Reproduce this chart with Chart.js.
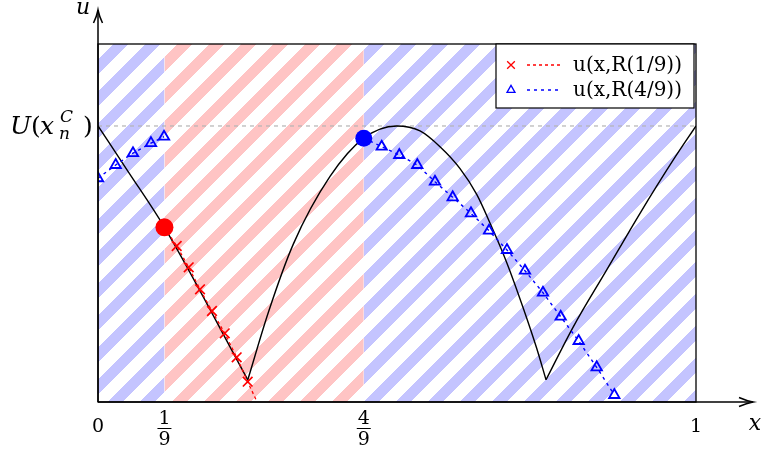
<!DOCTYPE html>
<html>
<head>
<meta charset="utf-8">
<script src="https://cdn.jsdelivr.net/npm/chart.js@4.4.1/dist/chart.umd.min.js"></script>
<style>
  html, body { margin: 0; padding: 0; background: #fff; }
  #wrap { width: 764px; height: 453px; }
</style>
</head>
<body>
<div id="wrap"><canvas id="c" width="764" height="453"></canvas></div>
<script>
// --- values ---
const xTicks = [0, 1/9, 4/9, 1];
const xTickLabels = ['0', '1/9', '4/9', '1'];
const uC = 0.771;                       // U(x_n^C), dashed grey level

const blueRegions = [[0, 1/9], [4/9, 1]];
const redRegions = [[1/9, 4/9]];

// exact solution, in three smooth pieces (kinks at the two minima)
const solAx = [0, 0.0507, 0.1111, 0.2505];
const solAu = [0.771, 0.643, 0.488, 0.062];
const solBx = [0.2505, 0.2848, 0.3266, 0.3880, 0.4444, 0.4995,
               0.5385, 0.5719, 0.6054, 0.6333, 0.6555, 0.6834, 0.7112, 0.7336, 0.7492];
const solBu = [0.062, 0.250, 0.441, 0.630, 0.737, 0.771,
               0.757, 0.713, 0.652, 0.580, 0.500, 0.390, 0.262, 0.150, 0.062];
const solCx = [0.7492, 0.7948, 0.8507, 0.9064, 0.9620, 1.0];
const solCu = [0.062, 0.210, 0.369, 0.527, 0.676, 0.771];

// u(x,R(1/9))
const rec1x = [0.1111, 0.1316, 0.1517, 0.1706, 0.1906, 0.2119, 0.2319, 0.2503, 0.2660];
const rec1u = [0.488, 0.4358, 0.3763, 0.3148, 0.2542, 0.1919, 0.1249, 0.0567, 0];

// u(x,R(4/9)), left piece wraps round from x=1
const rec4Lx = [0, 0.0296, 0.0585, 0.0886, 0.1104];
const rec4Lu = [0.625, 0.662, 0.695, 0.723, 0.741];
const rec4Rx = [0.4444, 0.4744, 0.5038, 0.5339, 0.5635, 0.5931, 0.6237, 0.6538, 0.6839,
                0.7140, 0.7441, 0.7737, 0.8038, 0.8339, 0.8634];
const rec4Ru = [0.737, 0.7131, 0.6900, 0.6620, 0.6154, 0.5718, 0.5271, 0.4785, 0.4246,
                0.3668, 0.3053, 0.2383, 0.1704, 0.0969, 0.0196];

const dotX = [1/9, 4/9];
const dotU = [0.488, 0.737];

const pts = (xs, us) => xs.map((x, i) => ({x: x, y: us[i]}));

// 45 degree stripe tile
function stripes(ctx, rgb) {
    const P = 32, W = 15, off = 3;
    const tile = document.createElement('canvas');
    tile.width = P; tile.height = P;
    const g = tile.getContext('2d');
    const img = g.createImageData(P, P);
    for (let y = 0; y < P; y++) {
        for (let x = 0; x < P; x++) {
            if ((x + y + off) % P < W) {
                const k = (y * P + x) * 4;
                img.data[k] = rgb[0]; img.data[k+1] = rgb[1]; img.data[k+2] = rgb[2]; img.data[k+3] = 255;
            }
        }
    }
    g.putImageData(img, 0, 0);
    return ctx.createPattern(tile, 'repeat');
}

const canvas = document.getElementById('c');
const ctx = canvas.getContext('2d');
const bluePat = stripes(ctx, [196, 196, 255]);
const redPat = stripes(ctx, [255, 196, 196]);

const FONT = "'DejaVu Serif', serif";

function regionSet(r, pat) {
    return { data: pts(r, [1, 1]), showLine: true, borderWidth: 0, pointRadius: 0,
             fill: 'origin', backgroundColor: pat, order: 20 };
}
function solSet(xs, us) {
    return { data: pts(xs, us), showLine: true, borderColor: '#000', borderWidth: 1.4,
             cubicInterpolationMode: 'monotone', pointRadius: 0, fill: false, order: 10 };
}

const datasets = [];
blueRegions.forEach(r => datasets.push(regionSet(r, bluePat)));
redRegions.forEach(r => datasets.push(regionSet(r, redPat)));
datasets.push({ data: pts([0, 1], [uC, uC]), showLine: true, borderColor: '#b4b4b4',
                borderDash: [4, 4], borderWidth: 1.2, pointRadius: 0, order: 15 });
datasets.push(solSet(solAx, solAu));
datasets.push(solSet(solBx, solBu));
datasets.push(solSet(solCx, solCu));
datasets.push({ label: 'u(x,R(1/9))', data: pts(rec1x, rec1u), showLine: true,
                borderColor: '#ff0000', borderDash: [3, 3], borderWidth: 1.3,
                pointStyle: 'crossRot', pointRadius: rec1x.map((x, i) => i === rec1x.length - 1 ? 0 : 6.8),
                pointBorderColor: '#ff0000', pointBorderWidth: 1.7, order: 5 });
datasets.push({ label: 'u(x,R(4/9))',
                data: pts(rec4Lx, rec4Lu).concat([{x: 0.3, y: null}], pts(rec4Rx, rec4Ru)),
                showLine: true, spanGaps: false, borderColor: '#0000ff', borderDash: [3, 4], borderWidth: 1.4,
                pointStyle: 'triangle', pointRadius: 6, pointBorderColor: '#0000ff',
                pointBackgroundColor: 'rgba(0,0,0,0)', pointBorderWidth: 1.8, order: 5 });
datasets.push({ data: pts([dotX[0]], [dotU[0]]), showLine: false, pointRadius: 9,
                pointBackgroundColor: '#ff0000', pointBorderWidth: 0, order: 1 });
datasets.push({ data: pts([dotX[1]], [dotU[1]]), showLine: false, pointRadius: 8.5,
                pointBackgroundColor: '#0000ff', pointBorderWidth: 0, order: 1 });

function arrow(c, x0, y0, x1, y1, len, half) {
    c.beginPath(); c.moveTo(x0, y0); c.lineTo(x1, y1); c.stroke();
    const a = Math.atan2(y1 - y0, x1 - x0);
    const bx = x1 - Math.cos(a) * len, by = y1 - Math.sin(a) * len;
    const nx = -Math.sin(a) * half, ny = Math.cos(a) * half;
    const mx = x1 - Math.cos(a) * len * 0.45, my = y1 - Math.sin(a) * len * 0.45;
    c.beginPath();
    c.moveTo(bx + nx, by + ny);
    c.quadraticCurveTo(mx + nx * 0.25, my + ny * 0.25, x1, y1);
    c.quadraticCurveTo(mx - nx * 0.25, my - ny * 0.25, bx - nx, by - ny);
    c.stroke();
}

const decor = {
    id: 'decor',
    afterDatasetsDraw(chart) {
        const c = chart.ctx, ca = chart.chartArea, sx = chart.scales.x, sy = chart.scales.y;
        c.save();
        c.strokeStyle = '#000';
        c.lineWidth = 1.3;
        c.strokeRect(ca.left, ca.top, ca.right - ca.left, ca.bottom - ca.top);
        c.lineWidth = 1.5;
        arrow(c, ca.left, ca.bottom, 753, ca.bottom, 14, 4.5);
        arrow(c, ca.left, ca.bottom, ca.left, 10, 13, 4.5);

        // axis names
        c.fillStyle = '#000';
        c.textBaseline = 'middle';
        c.textAlign = 'center';
        c.font = 'italic 22px ' + FONT;
        c.fillText('u', 83, 8);
        c.fillText('x', 755, 424);

        // tick labels, fractions stacked
        xTicks.forEach((v, i) => {
            const px = sx.getPixelForValue(v);
            const lab = xTickLabels[i];
            c.font = '19px ' + FONT;
            if (lab.indexOf('/') >= 0) {
                const [n, d] = lab.split('/');
                c.fillText(n, px, 419);
                c.fillText(d, px, 440);
                c.lineWidth = 1;
                c.beginPath(); c.moveTo(px - 7, 428.5); c.lineTo(px + 7, 428.5); c.stroke();
            } else {
                c.fillText(lab, px, 427);
            }
        });

        // U(x_n^C) at the dashed level
        const py = sy.getPixelForValue(uC);
        c.textAlign = 'left';
        c.textBaseline = 'alphabetic';
        c.font = 'italic 25px ' + FONT;
        c.fillText('U', 10, py + 8);
        c.font = '25px ' + FONT;
        c.fillText('(', 31, py + 8);
        c.font = 'italic 25px ' + FONT;
        c.fillText('x', 40, py + 8);
        c.font = 'italic 17px ' + FONT;
        c.fillText('C', 60, py - 4);
        c.fillText('n', 59, py + 13);
        c.font = '25px ' + FONT;
        c.fillText(')', 83, py + 8);

        // legend
        const lw = 198, lh = 64, lx = ca.right - 2 - lw, ly = ca.top;
        c.fillStyle = '#fff';
        c.fillRect(lx, ly, lw, lh);
        c.lineWidth = 1.2;
        c.strokeStyle = '#000';
        c.strokeRect(lx, ly, lw, lh);
        const items = chart.data.datasets.filter(ds => ds.label);
        items.forEach((ds, i) => {
            const y = ly + 21 + i * 25;
            c.strokeStyle = ds.borderColor;
            c.lineWidth = 1.3;
            c.setLineDash(ds.borderDash);
            c.beginPath(); c.moveTo(lx + 31, y); c.lineTo(lx + 64, y); c.stroke();
            c.setLineDash([]);
            c.fillStyle = 'rgba(0,0,0,0)';
            Chart.helpers.drawPoint(c, { pointStyle: ds.pointStyle, radius: ds.pointStyle === 'triangle' ? 4.6 : 5.4,
                                         borderWidth: 1.8, rotation: 0 }, lx + 15, y);
            c.fillStyle = '#000';
            c.font = '20px ' + FONT;
            c.textBaseline = 'middle';
            c.fillText(ds.label, lx + 77, y + 1);
        });
        c.restore();
    }
};

new Chart(canvas, {
    type: 'scatter',
    data: { datasets: datasets },
    options: {
        responsive: false,
        animation: false,
        events: [],
        layout: { padding: { left: 98, right: 68, top: 44, bottom: 51 } },
        plugins: { legend: { display: false }, tooltip: { enabled: false } },
        scales: {
            x: { type: 'linear', min: 0, max: 1, display: false },
            y: { type: 'linear', min: 0, max: 1, display: false }
        }
    },
    plugins: [decor]
});
</script>
</body>
</html>
